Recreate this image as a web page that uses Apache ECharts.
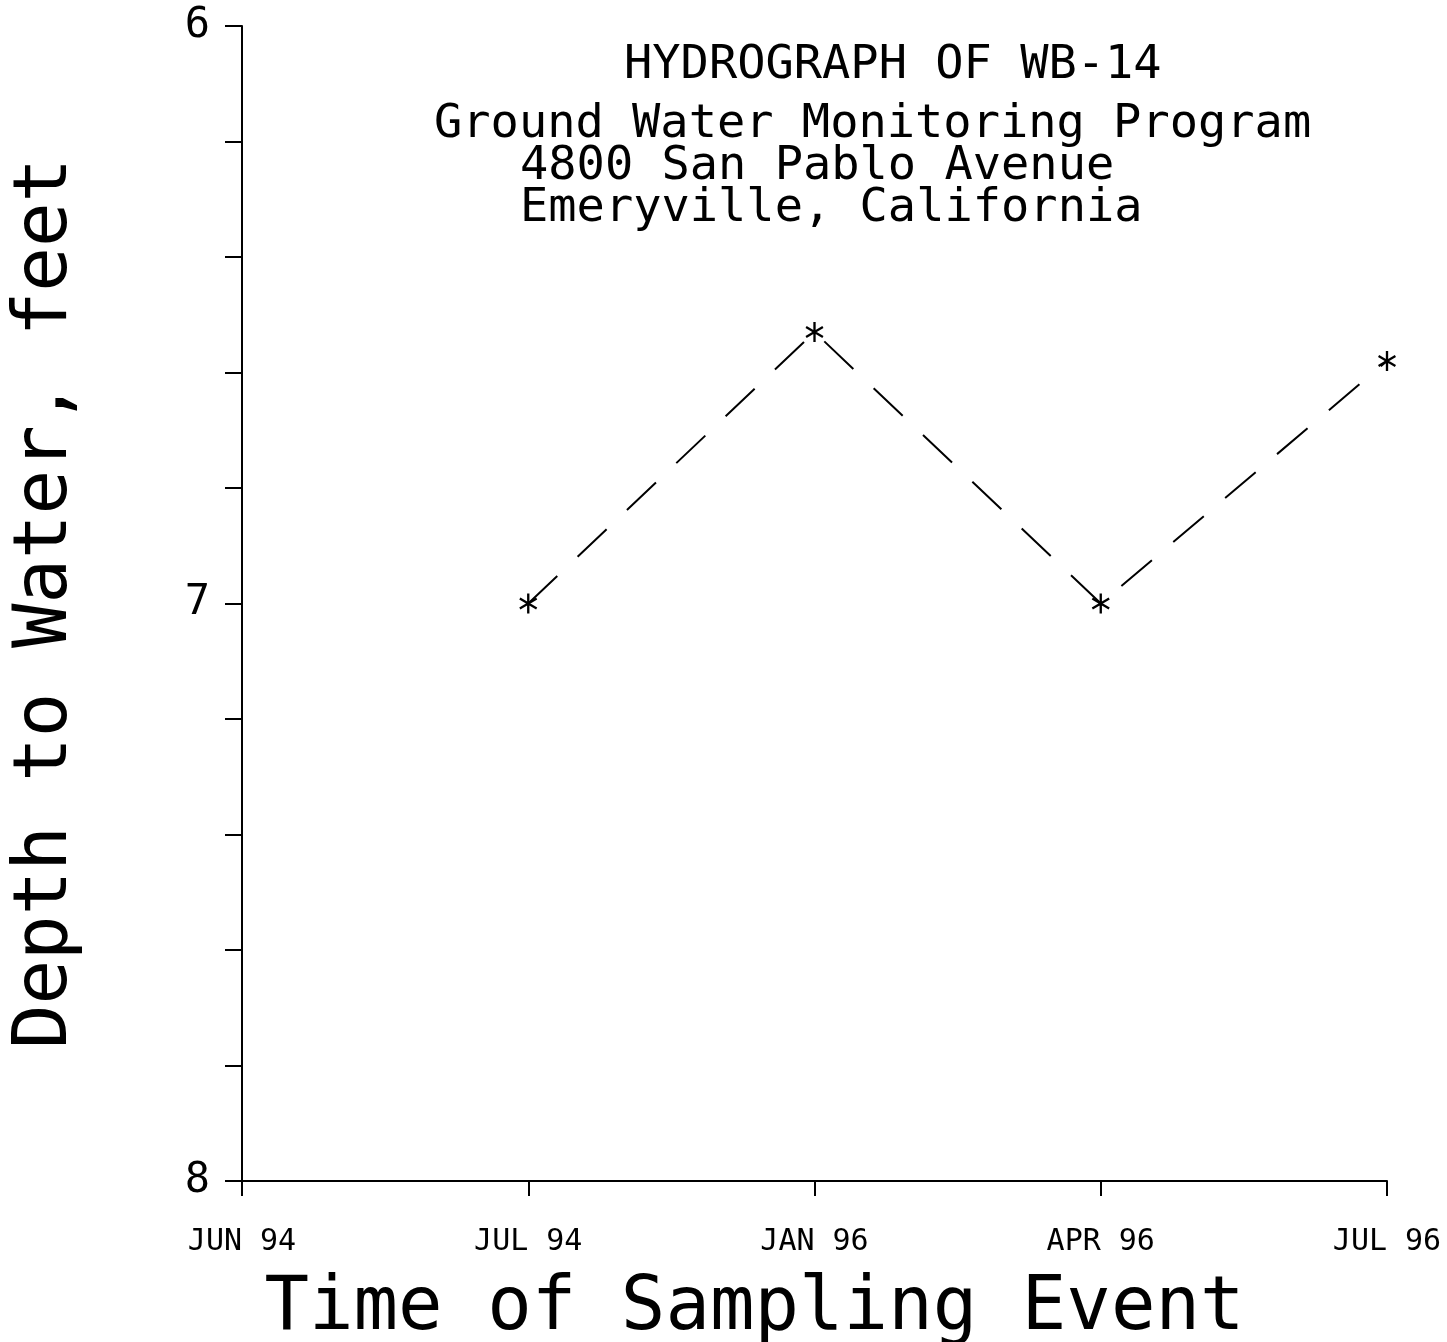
<!DOCTYPE html>
<html>
<head>
<meta charset="utf-8">
<script src="https://cdn.jsdelivr.net/npm/echarts@6/dist/echarts.min.js"></script>
<style>
  html, body { margin: 0; padding: 0; background: #fff; }
  #chart { width: 1447px; height: 1342px; }
</style>
</head>
<body>
<div id="chart"></div>
<script>
// sampling events and depth to water (feet)
const events = ['JUN 94', 'JUL 94', 'JAN 96', 'APR 96', 'JUL 96'];
const depth = [null, 7.0, 6.53, 7.0, 6.58];
const yLabels = [6, 7, 8];

const titleLines = [
    'HYDROGRAPH OF WB-14',
    'Ground Water Monitoring Program',
    '4800 San Pablo Avenue',
    'Emeryville, California'
];

const FONT = '"DejaVu Sans Mono", monospace';

// asterisk marker built from three thin bars
const star = 'path://M-1.2,-10 L1.2,-10 L1.2,10 L-1.2,10 Z' +
    ' M9.26,3.96 L8.06,6.04 L-9.26,-3.96 L-8.06,-6.04 Z' +
    ' M-8.06,6.04 L-9.26,3.96 L8.06,-6.04 L9.26,-3.96 Z';

const chart = echarts.init(document.getElementById('chart'));

const option = {
    backgroundColor: '#fff',
    animation: false,
    grid: { left: 242, top: 26, right: 60, bottom: 161, outerBoundsMode: 'none', containLabel: false },
    xAxis: {
        type: 'category',
        data: events,
        boundaryGap: false,
        axisLine: { lineStyle: { color: '#000', width: 2 } },
        axisTick: { length: 15, lineStyle: { color: '#000', width: 2 } },
        axisLabel: { color: '#000', fontFamily: FONT, fontSize: 30, margin: 46 },
        splitLine: { show: false },
        name: 'Time of Sampling Event',
        nameLocation: 'middle',
        nameGap: 92,
        nameTextStyle: { color: '#000', fontFamily: FONT, fontSize: 74, padding: [0, 120, 0, 0] }
    },
    yAxis: {
        type: 'value',
        inverse: true,
        min: 6,
        max: 8,
        interval: 0.2,
        axisLine: { show: true, lineStyle: { color: '#000', width: 2 } },
        axisTick: { show: true, length: 17, lineStyle: { color: '#000', width: 2 } },
        axisLabel: {
            color: '#000', fontFamily: FONT, fontSize: 42, margin: 32,
            formatter: v => {
                const r = Math.round(v * 10) / 10;
                return yLabels.includes(r) ? String(r) : '';
            }
        },
        splitLine: { show: false },
        name: 'Depth to Water, feet',
        nameLocation: 'middle',
        nameGap: 158,
        nameTextStyle: { color: '#000', fontFamily: FONT, fontSize: 74 }
    },
    graphic: titleLines.map((t, i) => ({
        type: 'text',
        left: [624, 434, 520, 520][i],
        top: [42, 101, 143, 185][i],
        style: { text: t, fill: '#000', font: '47px ' + FONT }
    })),
    series: [{
        type: 'line',
        data: depth,
        connectNulls: false,
        symbol: star,
        symbolSize: [18, 20],
        itemStyle: { color: '#000' },
        lineStyle: { color: '#000', width: 2, type: [40, 28] }
    }]
};

chart.setOption(option);
</script>
</body>
</html>
